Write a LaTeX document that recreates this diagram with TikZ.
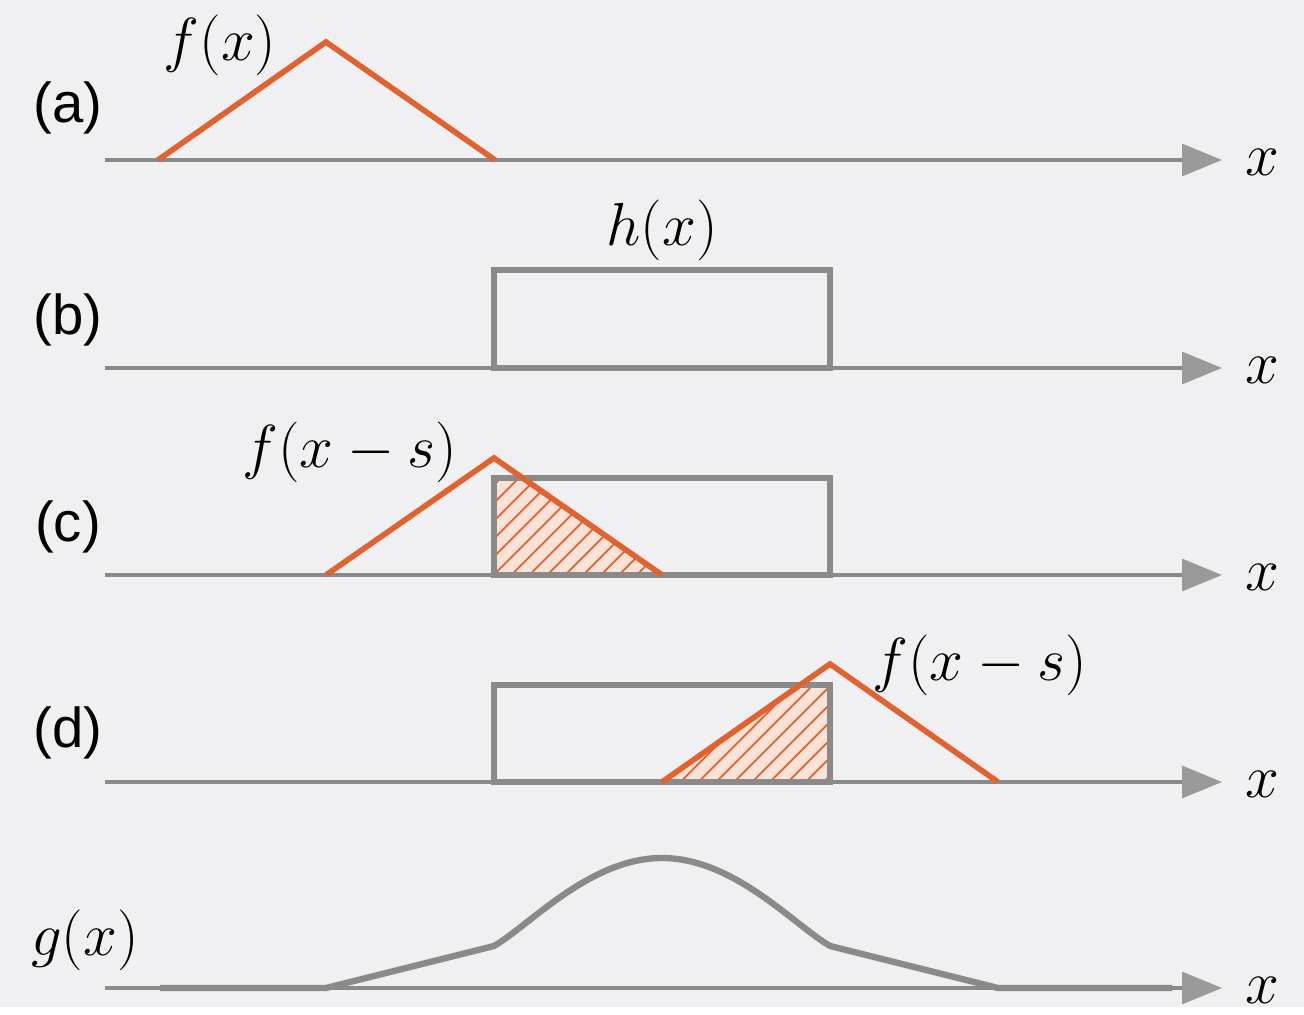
\documentclass[tikz,border=0pt]{standalone}
\usepackage{fontspec}
\usepackage{xcolor}
\usepackage{tikz}
\usetikzlibrary{arrows.meta,patterns.meta}
\newfontfamily\panelfont{Liberation Sans}
\definecolor{bgcol}{HTML}{F0F0F2}
\definecolor{fcol}{HTML}{E2622F}
\definecolor{axgray}{HTML}{8A8A8A}
\definecolor{tipgray}{HTML}{9A9A9A}
\definecolor{hatchbg}{HTML}{FBE2D6}

\begin{document}
\begin{tikzpicture}[
    x=0.01cm,y=-0.01cm,
    axis/.style={-{Triangle[length=4mm,width=3.2mm,color=tipgray]},line width=0.9pt,color=axgray},
    fplot/.style={line width=1.6pt,color=fcol,line join=miter},
    hbox/.style={line width=1.5pt,draw=axgray},
    gplot/.style={line width=1.8pt,color=axgray,line join=round},
    hatch/.style={pattern={Lines[angle=45,distance=3.6pt,line width=0.5pt]},pattern color=fcol},
    panel/.style={font=\panelfont\fontsize{16}{18}\selectfont},
    mlbl/.style={font=\fontsize{17}{20}\selectfont}
  ]
    \fill[bgcol] (0,0) rectangle (1304,1007);
    % (a) f(x)
    \coordinate (a0) at (105,160);
    \coordinate (a1) at (1222,160);
    \draw[axis] (a0) -- (a1);
    \node[mlbl] (ax) at (1262,162) {$x$};
    \node[panel] (pa) at (68,108) {(a)};
    \coordinate (fa1) at (158,160);
    \coordinate (fa2) at (326,42);
    \coordinate (fa3) at (495,160);
    \draw[fplot] (fa1) -- (fa2) -- (fa3);
    \node[mlbl] (fa) at (220,45) {$f(x)$};
    % (b) h(x)
    \coordinate (b0) at (105,368);
    \coordinate (b1) at (1222,368);
    \draw[axis] (b0) -- (b1);
    \node[mlbl] (bx) at (1262,370) {$x$};
    \node[panel] (pb) at (68,320) {(b)};
    \coordinate (hb1) at (494,368);
    \coordinate (hb2) at (830,270);
    \draw[hbox] (hb1) rectangle (hb2);
    \node[mlbl] (hb) at (662,230) {$h(x)$};
    % (c) overlap, left
    \coordinate (c0) at (105,575);
    \coordinate (c1) at (1222,575);
    \draw[axis] (c0) -- (c1);
    \node[mlbl] (cx) at (1262,577) {$x$};
    \node[panel] (pc) at (68,527) {(c)};
    \fill[hatchbg] (494,575) -- (494,478) -- (523,478) -- (662,575) -- cycle;
    \fill[hatch] (494,575) -- (494,478) -- (523,478) -- (662,575) -- cycle;
    \coordinate (hc1) at (494,575);
    \coordinate (hc2) at (830,478);
    \draw[hbox] (hc1) rectangle (hc2);
    \coordinate (fc1) at (326,575);
    \coordinate (fc2) at (494,458);
    \coordinate (fc3) at (662,575);
    \draw[fplot] (fc1) -- (fc2) -- (fc3);
    \node[mlbl] (fc) at (350,452) {$f(x-s)$};
    % (d) overlap, right
    \coordinate (d0) at (105,782);
    \coordinate (d1) at (1222,782);
    \draw[axis] (d0) -- (d1);
    \node[mlbl] (dx) at (1262,784) {$x$};
    \node[panel] (pd) at (68,733) {(d)};
    \fill[hatchbg] (662,782) -- (800,685) -- (830,685) -- (830,782) -- cycle;
    \fill[hatch] (662,782) -- (800,685) -- (830,685) -- (830,782) -- cycle;
    \coordinate (hd1) at (494,782);
    \coordinate (hd2) at (830,685);
    \draw[hbox] (hd1) rectangle (hd2);
    \coordinate (fd1) at (662,782);
    \coordinate (fd2) at (830,664);
    \coordinate (fd3) at (998,782);
    \draw[fplot] (fd1) -- (fd2) -- (fd3);
    \node[mlbl] (fd) at (980,665) {$f(x-s)$};
    % g(x) result
    \coordinate (g0) at (105,988);
    \coordinate (g1) at (1222,988);
    \draw[axis] (g0) -- (g1);
    \node[mlbl] (gx) at (1262,990) {$x$};
    \node[mlbl] (gl) at (85,940) {$g(x)$};
    \draw[gplot] (160,988) -- (326,988) -- (494,946)
      .. controls (530,925) and (590,858) .. (662,858)
      .. controls (734,858) and (794,925) .. (830,946)
      -- (998,988) -- (1172,988);
\end{tikzpicture}
\end{document}
